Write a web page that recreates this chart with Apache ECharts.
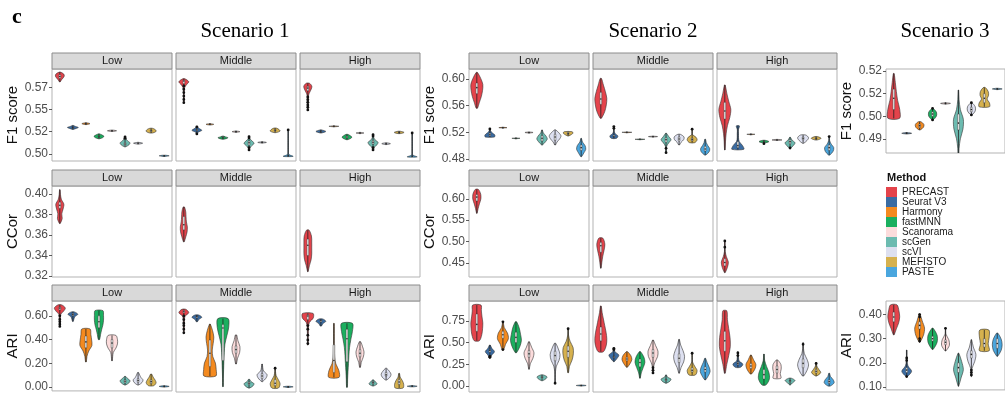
<!DOCTYPE html>
<html>
<head>
<meta charset="utf-8">
<script src="https://cdn.jsdelivr.net/npm/echarts@6/dist/echarts.min.js"></script>
<style>
  html, body { margin: 0; background: #fff; }
  #chart { width: 1005px; height: 393px; }
</style>
</head>
<body>
<div id="chart"></div>
<script>
const methods = ['PRECAST', 'Seurat V3', 'Harmony', 'fastMNN', 'Scanorama', 'scGen', 'scVI', 'MEFISTO', 'PASTE'];
const levels = ['Low', 'Middle', 'High'];

// each violin: [min, q1, median, q3, max, half-widths from min to max, outliers]
const s1F1Low = [
  [0.581, 0.585, 0.587, 0.589, 0.592, [0.03, 0.12, 0.25, 0.34, 0.30, 0.05], []],
  [0.5275, 0.529, 0.5295, 0.530, 0.532, [0.03, 0.25, 0.42, 0.2, 0.03], []],
  [0.533, 0.5335, 0.534, 0.5345, 0.535, [0.05, 0.31, 0.05], []],
  [0.517, 0.519, 0.5197, 0.5205, 0.5225, [0.05, 0.3, 0.38, 0.25, 0.05], []],
  [0.5252, 0.5257, 0.526, 0.5263, 0.5268, [0.05, 0.35, 0.05], []],
  [0.508, 0.5095, 0.511, 0.5125, 0.519, [0.05, 0.3, 0.38, 0.2, 0.08, 0.04], [0.5175, 0.519]],
  [0.511, 0.5115, 0.512, 0.5125, 0.513, [0.05, 0.35, 0.05], []],
  [0.5235, 0.525, 0.526, 0.527, 0.5288, [0.1, 0.35, 0.38, 0.3, 0.1], []],
  [0.4972, 0.4975, 0.4978, 0.498, 0.4985, [0.1, 0.38, 0.1], []]
];
const s1F1Middle = [
  [0.5576, 0.579, 0.582, 0.583, 0.5845, [0.02, 0.03, 0.03, 0.03, 0.04, 0.06, 0.2, 0.38, 0.08], [0.5576, 0.5613, 0.565, 0.569, 0.5727, 0.5765]],
  [0.522, 0.526, 0.527, 0.528, 0.531, [0.03, 0.08, 0.38, 0.15, 0.03], [0.5225, 0.5305]],
  [0.5325, 0.533, 0.5333, 0.5336, 0.534, [0.05, 0.3, 0.05], []],
  [0.5165, 0.5178, 0.5185, 0.5192, 0.520, [0.05, 0.3, 0.38, 0.2, 0.05], []],
  [0.5243, 0.5247, 0.525, 0.5253, 0.5257, [0.05, 0.3, 0.05], []],
  [0.5038, 0.510, 0.5125, 0.5145, 0.5197, [0.03, 0.05, 0.2, 0.38, 0.25, 0.05, 0.03], [0.5045, 0.507, 0.518, 0.5195]],
  [0.5122, 0.5126, 0.5129, 0.5132, 0.5136, [0.05, 0.33, 0.05], []],
  [0.524, 0.5255, 0.5265, 0.5275, 0.529, [0.1, 0.38, 0.3, 0.1], []],
  [0.4972, 0.4975, 0.4978, 0.498, 0.527, [0.38, 0.06, 0.02, 0.02, 0.02, 0.02, 0.02, 0.02, 0.02, 0.02, 0.02, 0.02, 0.02, 0.02, 0.02, 0.02], [0.527]]
];
const s1F1High = [
  [0.5495, 0.571, 0.574, 0.576, 0.5795, [0.02, 0.03, 0.04, 0.05, 0.05, 0.06, 0.15, 0.26, 0.31, 0.12], [0.5495, 0.5525, 0.555, 0.558, 0.561, 0.564]],
  [0.5235, 0.5245, 0.525, 0.5258, 0.527, [0.05, 0.38, 0.05], []],
  [0.5305, 0.5308, 0.531, 0.5312, 0.5315, [0.05, 0.38, 0.05], []],
  [0.516, 0.518, 0.519, 0.520, 0.522, [0.05, 0.3, 0.38, 0.25, 0.05], []],
  [0.5228, 0.5232, 0.5235, 0.5238, 0.5242, [0.05, 0.3, 0.05], []],
  [0.5045, 0.511, 0.513, 0.515, 0.5216, [0.03, 0.08, 0.3, 0.38, 0.15, 0.05, 0.03], [0.5045, 0.507, 0.52, 0.5216]],
  [0.5105, 0.511, 0.5114, 0.5118, 0.5125, [0.05, 0.33, 0.05], []],
  [0.5228, 0.5236, 0.5242, 0.5248, 0.5255, [0.08, 0.38, 0.08], []],
  [0.4966, 0.497, 0.4973, 0.4976, 0.5235, [0.38, 0.06, 0.02, 0.02, 0.02, 0.02, 0.02, 0.02, 0.02, 0.02, 0.02, 0.02, 0.02, 0.02, 0.02], [0.5235]]
];
const s1CCorLow = [[0.3712, 0.386, 0.389, 0.392, 0.4042, [0.03, 0.18, 0.15, 0.25, 0.31, 0.12, 0.05, 0.02], []]];
const s1CCorMiddle = [[0.3533, 0.365, 0.370, 0.378, 0.3873, [0.03, 0.15, 0.25, 0.27, 0.2, 0.17, 0.15, 0.05], []]];
const s1CCorHigh = [[0.3242, 0.340, 0.350, 0.356, 0.3647, [0.02, 0.12, 0.25, 0.3, 0.3, 0.3, 0.28, 0.1], []]];
const s1AriLow = [
  [0.511, 0.65, 0.665, 0.675, 0.692, [0.02, 0.03, 0.04, 0.05, 0.08, 0.3, 0.42, 0.15], [0.511, 0.53, 0.55, 0.57, 0.60]],
  [0.553, 0.60, 0.61, 0.62, 0.633, [0.03, 0.08, 0.15, 0.38, 0.12], []],
  [0.211, 0.33, 0.38, 0.43, 0.489, [0.03, 0.08, 0.22, 0.46, 0.44, 0.38, 0.32], []],
  [0.40, 0.50, 0.55, 0.60, 0.644, [0.05, 0.12, 0.2, 0.3, 0.35, 0.35, 0.3], []],
  [0.22, 0.33, 0.37, 0.40, 0.435, [0.02, 0.05, 0.1, 0.3, 0.42, 0.42, 0.3], []],
  [0.017, 0.035, 0.048, 0.06, 0.089, [0.05, 0.3, 0.38, 0.2, 0.05], []],
  [0.017, 0.04, 0.055, 0.07, 0.122, [0.05, 0.3, 0.38, 0.22, 0.12, 0.04], []],
  [0.011, 0.03, 0.045, 0.06, 0.108, [0.2, 0.38, 0.3, 0.15, 0.05], []],
  [0.0, 0.003, 0.005, 0.007, 0.01, [0.1, 0.38, 0.1], []]
];
const s1AriMiddle = [
  [0.458, 0.625, 0.635, 0.645, 0.656, [0.02, 0.03, 0.04, 0.04, 0.05, 0.1, 0.38, 0.15], [0.46, 0.49, 0.52, 0.54, 0.57, 0.60]],
  [0.553, 0.585, 0.595, 0.60, 0.608, [0.05, 0.15, 0.38, 0.15], []],
  [0.10, 0.18, 0.29, 0.40, 0.533, [0.46, 0.48, 0.42, 0.22, 0.18, 0.25, 0.3, 0.2, 0.03], []],
  [0.011, 0.23, 0.50, 0.53, 0.578, [0.02, 0.03, 0.05, 0.07, 0.1, 0.15, 0.3, 0.44, 0.4], []],
  [0.20, 0.29, 0.32, 0.35, 0.442, [0.03, 0.12, 0.28, 0.3, 0.15, 0.05], []],
  [0.0, 0.03, 0.04, 0.05, 0.072, [0.05, 0.3, 0.38, 0.15, 0.05], []],
  [0.053, 0.08, 0.10, 0.12, 0.20, [0.03, 0.3, 0.38, 0.12, 0.05, 0.02], []],
  [0.0, 0.02, 0.04, 0.07, 0.172, [0.25, 0.38, 0.25, 0.08, 0.03, 0.02], [0.165]],
  [0.005, 0.008, 0.01, 0.012, 0.015, [0.1, 0.38, 0.1], []]
];
const s1AriHigh = [
  [0.358, 0.57, 0.60, 0.61, 0.622, [0.02, 0.03, 0.03, 0.04, 0.05, 0.12, 0.42, 0.4], [0.37, 0.40, 0.44, 0.49, 0.52]],
  [0.517, 0.55, 0.56, 0.565, 0.575, [0.05, 0.15, 0.38, 0.15], []],
  [0.089, 0.13, 0.23, 0.36, 0.539, [0.4, 0.38, 0.15, 0.06, 0.04, 0.03, 0.03, 0.03, 0.02], []],
  [0.006, 0.22, 0.41, 0.49, 0.539, [0.03, 0.05, 0.08, 0.12, 0.15, 0.2, 0.3, 0.42, 0.42], []],
  [0.172, 0.26, 0.29, 0.32, 0.386, [0.03, 0.1, 0.25, 0.31, 0.2, 0.05], []],
  [0.017, 0.035, 0.045, 0.055, 0.067, [0.05, 0.31, 0.2, 0.05], []],
  [0.067, 0.10, 0.11, 0.13, 0.164, [0.05, 0.3, 0.38, 0.25, 0.05], []],
  [0.0, 0.03, 0.05, 0.07, 0.122, [0.3, 0.35, 0.25, 0.08, 0.03], []],
  [0.01, 0.013, 0.015, 0.017, 0.02, [0.1, 0.38, 0.1], []]
];
const s2F1Low = [
  [0.5562, 0.578, 0.587, 0.594, 0.6098, [0.05, 0.2, 0.35, 0.44, 0.46, 0.3, 0.05], []],
  [0.513, 0.515, 0.517, 0.519, 0.525, [0.35, 0.38, 0.2, 0.05, 0.03], [0.525]],
  [0.5265, 0.5268, 0.527, 0.5272, 0.5275, [0.05, 0.31, 0.05], []],
  [0.5105, 0.5108, 0.511, 0.5112, 0.5115, [0.05, 0.31, 0.05], []],
  [0.519, 0.5194, 0.5196, 0.520, 0.5205, [0.05, 0.31, 0.05], []],
  [0.501, 0.507, 0.511, 0.515, 0.5236, [0.03, 0.25, 0.4, 0.3, 0.1, 0.02], []],
  [0.501, 0.508, 0.513, 0.517, 0.5236, [0.03, 0.15, 0.35, 0.45, 0.3, 0.05], []],
  [0.5146, 0.517, 0.518, 0.520, 0.521, [0.05, 0.25, 0.38, 0.3], []],
  [0.4835, 0.493, 0.497, 0.501, 0.511, [0.03, 0.2, 0.35, 0.3, 0.1, 0.02], []]
];
const s2F1Middle = [
  [0.5412, 0.562, 0.570, 0.58, 0.6008, [0.05, 0.3, 0.42, 0.46, 0.35, 0.2, 0.05], []],
  [0.511, 0.513, 0.514, 0.516, 0.5286, [0.2, 0.31, 0.1, 0.03, 0.02, 0.02], [0.526, 0.5286]],
  [0.5195, 0.5198, 0.52, 0.5202, 0.5205, [0.05, 0.38, 0.05], []],
  [0.509, 0.5093, 0.5096, 0.5098, 0.510, [0.05, 0.38, 0.05], []],
  [0.513, 0.5133, 0.5136, 0.5139, 0.5142, [0.05, 0.35, 0.05], []],
  [0.4895, 0.505, 0.509, 0.512, 0.5187, [0.02, 0.03, 0.05, 0.2, 0.38, 0.2, 0.03], [0.4895, 0.496]],
  [0.501, 0.507, 0.51, 0.513, 0.517, [0.03, 0.15, 0.35, 0.38, 0.1], []],
  [0.5045, 0.507, 0.509, 0.511, 0.5247, [0.2, 0.38, 0.3, 0.03, 0.02, 0.02], [0.5247]],
  [0.486, 0.492, 0.495, 0.499, 0.5096, [0.05, 0.3, 0.35, 0.2, 0.08, 0.03], []]
];
const s2F1High = [
  [0.4935, 0.54, 0.552, 0.565, 0.591, [0.02, 0.05, 0.1, 0.2, 0.38, 0.46, 0.3, 0.15, 0.03], []],
  [0.4946, 0.497, 0.500, 0.506, 0.5296, [0.46, 0.35, 0.1, 0.05, 0.05, 0.04, 0.12], []],
  [0.5165, 0.5168, 0.517, 0.5172, 0.5175, [0.05, 0.31, 0.05], []],
  [0.504, 0.505, 0.506, 0.507, 0.508, [0.05, 0.38, 0.1], [0.503]],
  [0.5078, 0.5082, 0.5086, 0.509, 0.5094, [0.05, 0.38, 0.05], []],
  [0.496, 0.503, 0.506, 0.509, 0.5126, [0.03, 0.25, 0.38, 0.15, 0.03], [0.4965]],
  [0.5036, 0.509, 0.511, 0.513, 0.516, [0.05, 0.3, 0.42, 0.2], []],
  [0.5086, 0.510, 0.511, 0.512, 0.5136, [0.1, 0.38, 0.1], []],
  [0.486, 0.493, 0.497, 0.501, 0.5136, [0.05, 0.3, 0.35, 0.15, 0.03, 0.02], [0.5136]]
];
const s2CCorLow = [[0.566, 0.595, 0.604, 0.61, 0.622, [0.02, 0.1, 0.2, 0.31, 0.3, 0.12], []]];
const s2CCorMiddle = [[0.4376, 0.475, 0.49, 0.498, 0.508, [0.02, 0.08, 0.15, 0.25, 0.31, 0.15], []]];
const s2CCorHigh = [[0.4273, 0.443, 0.451, 0.46, 0.5014, [0.03, 0.2, 0.27, 0.12, 0.03, 0.02, 0.02], [0.4867, 0.5014]]];
const s2AriLow = [
  [0.522, 0.63, 0.71, 0.83, 0.933, [0.2, 0.38, 0.44, 0.46, 0.4, 0.35, 0.32], []],
  [0.319, 0.39, 0.41, 0.42, 0.472, [0.03, 0.15, 0.35, 0.15, 0.03], [0.33, 0.34]],
  [0.415, 0.55, 0.59, 0.63, 0.74, [0.05, 0.2, 0.42, 0.35, 0.1, 0.02], [0.42, 0.74]],
  [0.384, 0.50, 0.56, 0.62, 0.74, [0.05, 0.3, 0.42, 0.35, 0.25, 0.05], []],
  [0.192, 0.33, 0.37, 0.41, 0.51, [0.02, 0.1, 0.3, 0.38, 0.2, 0.03], []],
  [0.061, 0.09, 0.10, 0.11, 0.127, [0.05, 0.3, 0.38, 0.1], []],
  [0.031, 0.29, 0.35, 0.40, 0.492, [0.02, 0.02, 0.03, 0.1, 0.3, 0.38, 0.25, 0.05], [0.031]],
  [0.153, 0.33, 0.40, 0.46, 0.66, [0.03, 0.1, 0.3, 0.4, 0.38, 0.15, 0.03, 0.02], [0.66]],
  [0.0, 0.003, 0.005, 0.007, 0.01, [0.1, 0.38, 0.1], []]
];
const s2AriMiddle = [
  [0.395, 0.52, 0.60, 0.68, 0.922, [0.2, 0.42, 0.46, 0.4, 0.3, 0.2, 0.1, 0.03], []],
  [0.28, 0.325, 0.335, 0.345, 0.434, [0.03, 0.25, 0.38, 0.08, 0.03], [0.42, 0.434]],
  [0.215, 0.29, 0.31, 0.33, 0.395, [0.03, 0.25, 0.38, 0.3, 0.05], []],
  [0.089, 0.22, 0.27, 0.31, 0.395, [0.02, 0.1, 0.25, 0.38, 0.3, 0.05], []],
  [0.146, 0.33, 0.38, 0.42, 0.53, [0.02, 0.03, 0.15, 0.35, 0.38, 0.2, 0.03], [0.15, 0.18, 0.21]],
  [0.031, 0.06, 0.07, 0.08, 0.127, [0.03, 0.3, 0.38, 0.1, 0.03], []],
  [0.146, 0.27, 0.32, 0.37, 0.538, [0.02, 0.15, 0.35, 0.42, 0.3, 0.12, 0.02], []],
  [0.127, 0.16, 0.18, 0.21, 0.377, [0.25, 0.38, 0.2, 0.03, 0.02, 0.02], [0.377]],
  [0.069, 0.16, 0.19, 0.22, 0.319, [0.03, 0.25, 0.38, 0.3, 0.15, 0.03], []]
];
const s2AriHigh = [
  [0.146, 0.40, 0.52, 0.63, 0.867, [0.03, 0.15, 0.3, 0.42, 0.4, 0.3, 0.2, 0.15], []],
  [0.215, 0.245, 0.26, 0.275, 0.395, [0.2, 0.38, 0.1, 0.05, 0.03, 0.02], [0.35, 0.38]],
  [0.138, 0.20, 0.23, 0.26, 0.357, [0.05, 0.3, 0.38, 0.2, 0.03], []],
  [0.011, 0.08, 0.13, 0.19, 0.368, [0.15, 0.42, 0.38, 0.2, 0.05, 0.02], []],
  [0.089, 0.15, 0.19, 0.23, 0.30, [0.3, 0.25, 0.32, 0.3, 0.05], []],
  [0.011, 0.05, 0.06, 0.065, 0.089, [0.03, 0.2, 0.38, 0.1], []],
  [0.115, 0.21, 0.26, 0.31, 0.50, [0.05, 0.3, 0.42, 0.3, 0.1, 0.03, 0.02], [0.48]],
  [0.115, 0.15, 0.17, 0.19, 0.269, [0.05, 0.35, 0.2, 0.05, 0.02], [0.26]],
  [0.0, 0.03, 0.05, 0.07, 0.146, [0.1, 0.38, 0.3, 0.1, 0.03], []]
];
const s3F1 = [
  [0.5041, 0.508, 0.513, 0.517, 0.5239, [0.45, 0.46, 0.3, 0.2, 0.12, 0.03], []],
  [0.4972, 0.4974, 0.4975, 0.4976, 0.4978, [0.05, 0.38, 0.05], []],
  [0.499, 0.5, 0.5008, 0.5015, 0.5026, [0.05, 0.3, 0.33, 0.1], []],
  [0.5034, 0.505, 0.506, 0.507, 0.5085, [0.05, 0.3, 0.3, 0.05], [0.5034, 0.5085]],
  [0.5104, 0.5106, 0.5107, 0.5108, 0.511, [0.05, 0.38, 0.05], []],
  [0.4865, 0.499, 0.502, 0.506, 0.5166, [0.02, 0.05, 0.15, 0.35, 0.38, 0.15, 0.05, 0.02], [0.4865]],
  [0.5056, 0.507, 0.508, 0.509, 0.511, [0.05, 0.3, 0.3, 0.05], [0.5056, 0.511]],
  [0.5092, 0.511, 0.513, 0.515, 0.5177, [0.4, 0.4, 0.22, 0.33, 0.3, 0.08], []],
  [0.5168, 0.517, 0.5171, 0.5172, 0.5174, [0.05, 0.38, 0.05], []]
];
const s3Ari = [
  [0.316, 0.37, 0.39, 0.41, 0.44, [0.03, 0.2, 0.38, 0.46, 0.4, 0.25], []],
  [0.143, 0.16, 0.17, 0.18, 0.253, [0.05, 0.38, 0.1, 0.03, 0.02, 0.02], [0.143, 0.21, 0.22]],
  [0.285, 0.34, 0.355, 0.37, 0.403, [0.03, 0.3, 0.38, 0.2, 0.03], [0.29, 0.30, 0.39, 0.40]],
  [0.256, 0.29, 0.30, 0.31, 0.343, [0.05, 0.35, 0.35, 0.05], []],
  [0.249, 0.275, 0.285, 0.295, 0.343, [0.03, 0.3, 0.25, 0.03, 0.02], [0.343]],
  [0.103, 0.16, 0.18, 0.20, 0.24, [0.02, 0.2, 0.38, 0.25, 0.03], []],
  [0.143, 0.22, 0.235, 0.25, 0.296, [0.02, 0.03, 0.25, 0.35, 0.15, 0.02], [0.15, 0.16, 0.17]],
  [0.25, 0.265, 0.28, 0.30, 0.336, [0.38, 0.3, 0.38, 0.35], []],
  [0.227, 0.26, 0.28, 0.30, 0.323, [0.03, 0.3, 0.38, 0.3, 0.05], []]
];

// axis ranges, tick values and their printed labels
const s1F1Axis = { min: 0.492, max: 0.5955, ticks: [0.5, 0.525, 0.55, 0.575], labels: ['0.50', '0.52', '0.55', '0.57'] };
const s1CCorAxis = { min: 0.319, max: 0.4078, ticks: [0.32, 0.34, 0.36, 0.38, 0.40], labels: ['0.32', '0.34', '0.36', '0.38', '0.40'] };
const s1AriAxis = { min: -0.033, max: 0.725, ticks: [0, 0.2, 0.4, 0.6], labels: ['0.00', '0.20', '0.40', '0.60'] };
const s2F1Axis = { min: 0.477, max: 0.615, ticks: [0.48, 0.52, 0.56, 0.60], labels: ['0.48', '0.52', '0.56', '0.60'] };
const s2CCorAxis = { min: 0.417, max: 0.630, ticks: [0.45, 0.5, 0.55, 0.6], labels: ['0.45', '0.50', '0.55', '0.60'] };
const s2AriAxis = { min: -0.07, max: 0.98, ticks: [0, 0.25, 0.5, 0.75], labels: ['0.00', '0.25', '0.50', '0.75'] };
const s3F1Axis = { min: 0.4888, max: 0.5259, ticks: [0.495, 0.505, 0.515, 0.525], labels: ['0.49', '0.50', '0.52', '0.52'] };
const s3AriAxis = { min: 0.088, max: 0.456, ticks: [0.1, 0.2, 0.3, 0.4], labels: ['0.10', '0.20', '0.30', '0.40'] };

const colors = ['#E4434B', '#3A6CA3', '#F48A1F', '#1BAF5F', '#FCDCDC', '#6CBBB0', '#DDE0F0', '#D6B14E', '#4AA6DE'];
const sans = '"Liberation Sans", Arial, sans-serif';
const serif = '"Liberation Serif", "Times New Roman", serif';

const scenarios = [
  { title: 'Scenario 1', titleX: 245, cols: [52, 176, 300], width: 120, strips: true, rows: [
    { top: 69, height: 92, name: 'F1 score', axis: s1F1Axis, panels: [s1F1Low, s1F1Middle, s1F1High] },
    { top: 186, height: 91, name: 'CCor', axis: s1CCorAxis, panels: [s1CCorLow, s1CCorMiddle, s1CCorHigh] },
    { top: 301, height: 91, name: 'ARI', axis: s1AriAxis, panels: [s1AriLow, s1AriMiddle, s1AriHigh] }
  ] },
  { title: 'Scenario 2', titleX: 653, cols: [469, 593, 717], width: 120, strips: true, rows: [
    { top: 69, height: 92, name: 'F1 score', axis: s2F1Axis, panels: [s2F1Low, s2F1Middle, s2F1High] },
    { top: 186, height: 91, name: 'CCor', axis: s2CCorAxis, panels: [s2CCorLow, s2CCorMiddle, s2CCorHigh] },
    { top: 301, height: 91, name: 'ARI', axis: s2AriAxis, panels: [s2AriLow, s2AriMiddle, s2AriHigh] }
  ] },
  { title: 'Scenario 3', titleX: 945, cols: [886], width: 125, strips: false, rows: [
    { top: 69, height: 84, name: 'F1 score', axis: s3F1Axis, panels: [s3F1] },
    { top: 301, height: 91, name: 'ARI', axis: s3AriAxis, panels: [s3Ari] }
  ] }
];

function violin(rec, cat, color) {
  const [lo, q1, med, q3, hi, widths, outliers] = rec;
  return function (params, api) {
    const unit = api.size([1, 0])[0];
    const cx = api.coord([cat, lo])[0];
    const y = (v) => api.coord([cat, v])[1];
    const left = [];
    const right = [];
    widths.forEach((w, i) => {
      const v = lo + (hi - lo) * i / (widths.length - 1);
      left.push([cx - w * unit, y(v)]);
      right.push([cx + w * unit, y(v)]);
    });
    const children = [
      { type: 'polygon', shape: { points: left.concat(right.reverse()), smooth: 0.3 },
        style: { fill: color, stroke: '#333', lineWidth: 0.6 } },
      { type: 'line', shape: { x1: cx, y1: y(lo), x2: cx, y2: y(hi) }, style: { stroke: '#222', lineWidth: 0.8 } },
      { type: 'rect', shape: { x: cx - 0.07 * unit, y: y(q3), width: 0.14 * unit, height: Math.max(y(q1) - y(q3), 0.5) },
        style: { fill: '#ececec', stroke: '#333', lineWidth: 0.4 } },
      { type: 'circle', shape: { cx: cx, cy: y(med), r: 0.8 }, style: { fill: '#222' } }
    ];
    outliers.forEach((o) => {
      children.push({ type: 'circle', shape: { cx: cx, cy: y(o), r: 1.4 }, style: { fill: '#111' } });
    });
    return { type: 'group', children: children };
  };
}

const grid = [], xAxis = [], yAxis = [], series = [];
const graphic = [
  { type: 'text', x: 12, y: 6, style: { text: 'c', font: 'bold 22px ' + serif, fill: '#000' } },
  { type: 'text', x: 887, y: 172, style: { text: 'Method', font: 'bold 11px ' + sans, fill: '#111' } }
];

scenarios.forEach((sc) => {
  graphic.push({ type: 'text', x: sc.titleX, y: 31,
    style: { text: sc.title, font: '21px ' + serif, fill: '#000', textAlign: 'center', textVerticalAlign: 'middle' } });
  sc.rows.forEach((row) => {
    row.panels.forEach((recs, p) => {
      const idx = grid.length;
      const left = sc.cols[p];
      const first = p === 0;
      const ax = row.axis;
      grid.push({ left: left, top: row.top, width: sc.width, height: row.height,
        show: true, borderColor: '#b3b3b3', borderWidth: 1, backgroundColor: '#fff' });
      xAxis.push({ type: 'value', gridIndex: idx, min: -0.6, max: 8.6, show: false });
      yAxis.push({
        type: 'value', gridIndex: idx, min: ax.min, max: ax.max,
        name: first ? row.name : '', nameLocation: 'middle', nameRotate: 90, nameGap: 26,
        nameTextStyle: { fontSize: 15, color: '#111', fontFamily: sans },
        axisLine: { show: false, onZero: false },
        splitLine: { show: false },
        axisTick: { show: first, customValues: ax.ticks, length: 3, lineStyle: { color: '#333', width: 0.8 } },
        axisLabel: {
          show: first, customValues: ax.ticks, margin: 4, fontSize: 12, color: '#4d4d4d', fontFamily: sans,
          formatter: (v) => {
            let k = 0;
            ax.ticks.forEach((t, i) => { if (Math.abs(t - v) < Math.abs(ax.ticks[k] - v)) k = i; });
            return ax.labels[k];
          }
        }
      });
      if (sc.strips) {
        graphic.push({ type: 'rect', shape: { x: left, y: row.top - 16, width: sc.width, height: 16 },
          style: { fill: '#d9d9d9', stroke: '#8c8c8c', lineWidth: 1 } });
        graphic.push({ type: 'text', x: left + sc.width / 2, y: row.top - 8,
          style: { text: levels[p], font: '11px ' + sans, fill: '#1a1a1a', textAlign: 'center', textVerticalAlign: 'middle' } });
      }
      recs.forEach((rec, m) => {
        series.push({
          type: 'custom', name: methods[m], xAxisIndex: idx, yAxisIndex: idx,
          itemStyle: { color: colors[m] },
          data: [[m, rec[2]]],
          renderItem: violin(rec, m, colors[m]),
          clip: true
        });
      });
    });
  });
});

const chart = echarts.init(document.getElementById('chart'));
chart.setOption({
  animation: false,
  backgroundColor: '#fff',
  grid: grid,
  xAxis: xAxis,
  yAxis: yAxis,
  legend: {
    orient: 'vertical', left: 886, top: 187, padding: 0,
    itemWidth: 11, itemHeight: 10, itemGap: 0, icon: 'rect', selectedMode: false,
    itemStyle: { borderWidth: 0 },
    textStyle: { fontSize: 10, lineHeight: 10, color: '#1a1a1a', fontFamily: sans },
    data: methods
  },
  graphic: graphic,
  series: series
});
window.addEventListener('resize', chart.resize);
</script>
</body>
</html>
